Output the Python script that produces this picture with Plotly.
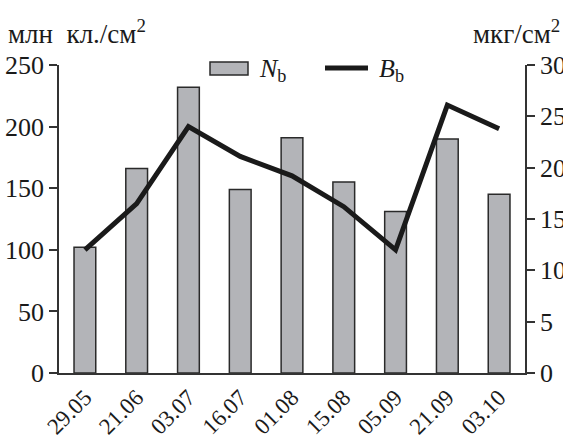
import plotly.graph_objects as go

dates = ["29.05", "21.06", "03.07", "16.07", "01.08", "15.08", "05.09", "21.09", "03.10"]
n_b = [102, 166, 232, 149, 191, 155, 131, 190, 145]
b_b = [12.0, 16.5, 24.0, 21.1, 19.2, 16.2, 12.0, 26.1, 23.8]

FONT = "Liberation Serif"
W, H = 563, 437
L, R, T, B = 59, 38, 65, 64
pw, ph = W - L - R, H - T - B

def px(x):
    return (x - L) / pw

def py(y):
    return (H - B - y) / ph

fig = go.Figure()
fig.add_trace(go.Bar(
    x=dates, y=n_b, width=0.42,
    marker=dict(color="#b3b4b8", line=dict(color="#2a2a2a", width=1.5)),
    showlegend=False, yaxis="y",
))
fig.add_trace(go.Scatter(
    x=dates, y=b_b, mode="lines",
    line=dict(color="#1a1a1a", width=5),
    showlegend=False, yaxis="y2",
))

fig.update_layout(
    template="none",
    width=W, height=H,
    margin=dict(l=L, r=R, t=T, b=B, autoexpand=False),
    paper_bgcolor="white", plot_bgcolor="white",
    font=dict(family=FONT, size=25, color="#1a1a1a"),
    xaxis=dict(
        type="category", showline=True, linecolor="#333", linewidth=2,
        ticks="", tickangle=-45, tickfont=dict(size=23, family=FONT, color="#1a1a1a"),
        showgrid=False, zeroline=False, automargin=False,
    ),
    yaxis=dict(
        range=[0, 250], dtick=50, showline=True, linecolor="#333", linewidth=1.5,
        ticks="outside", ticklen=8, tickwidth=1.5, tickcolor="#333",
        showgrid=False, zeroline=False, automargin=False,
        tickfont=dict(size=26, family=FONT, color="#1a1a1a"),
    ),
    yaxis2=dict(
        range=[0, 30], dtick=5, overlaying="y", side="right",
        showline=True, linecolor="#333", linewidth=1.5,
        ticks="outside", ticklen=8, tickwidth=1.5, tickcolor="#333",
        showgrid=False, zeroline=False, automargin=False,
        tickfont=dict(size=26, family=FONT, color="#1a1a1a"),
    ),
)

# axis titles
fig.add_annotation(text="млн  кл./см<sup>2</sup>", xref="paper", yref="paper",
                   x=px(6), y=py(32), xanchor="left", yanchor="middle",
                   showarrow=False, font=dict(size=27, family=FONT, color="#1a1a1a"))
fig.add_annotation(text="мкг/см<sup>2</sup>", xref="paper", yref="paper",
                   x=px(562), y=py(32), xanchor="right", yanchor="middle",
                   showarrow=False, font=dict(size=27, family=FONT, color="#1a1a1a"))

# legend
fig.add_shape(type="rect", xref="paper", yref="paper",
              x0=px(210), x1=px(248), y0=py(75), y1=py(62),
              fillcolor="#b3b4b8", line=dict(color="#2a2a2a", width=1.5))
fig.add_annotation(text="<i>N</i><sub>b</sub>", xref="paper", yref="paper",
                   x=px(257), y=py(70), xanchor="left", yanchor="middle",
                   showarrow=False, font=dict(size=26, family=FONT, color="#1a1a1a"))
fig.add_shape(type="line", xref="paper", yref="paper",
              x0=px(325), x1=px(368), y0=py(68), y1=py(68),
              line=dict(color="#1a1a1a", width=5))
fig.add_annotation(text="<i>B</i><sub>b</sub>", xref="paper", yref="paper",
                   x=px(377), y=py(70), xanchor="left", yanchor="middle",
                   showarrow=False, font=dict(size=26, family=FONT, color="#1a1a1a"))

fig.write_html("out.html", config={"displayModeBar": False},
               post_script="document.body.style.margin='0';document.body.style.padding='0';document.documentElement.style.overflow='hidden';")
